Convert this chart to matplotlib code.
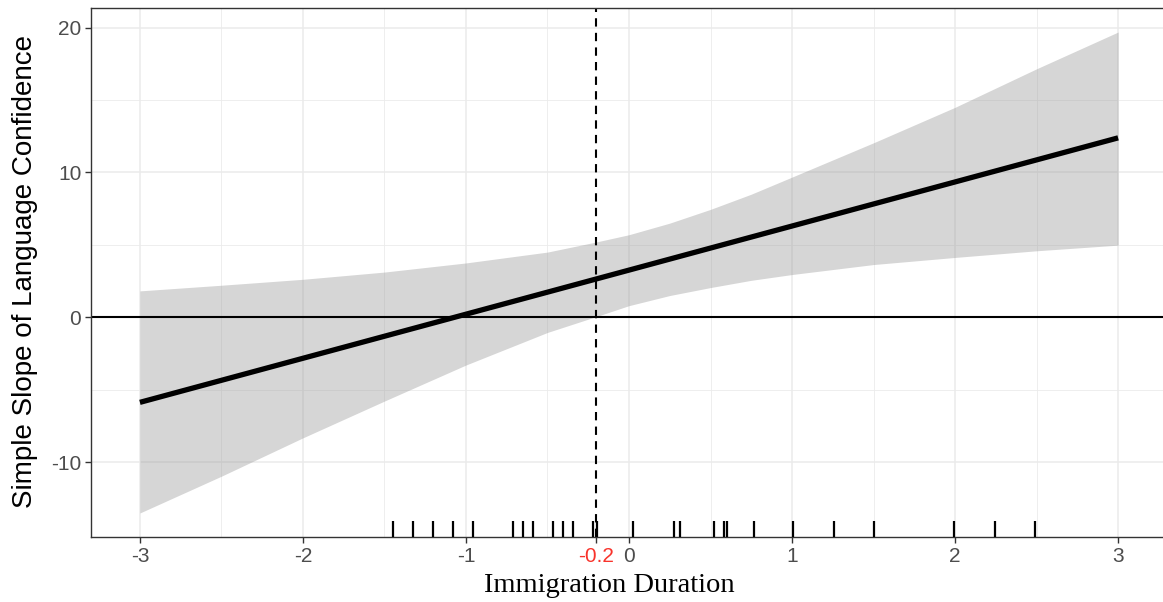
import numpy as np
import matplotlib
matplotlib.use("Agg")
from matplotlib import pyplot as plt
from matplotlib import transforms

plt.rcParams["axes.unicode_minus"] = False

# moderator values (immigration duration) at which the CI band was read
band_x = [-3.0, -2.5, -2.0, -1.5, -1.0, -0.5, -0.2, 0.0, 0.25, 0.5, 0.75, 1.0,
          1.5, 2.0, 2.5, 3.0]
band_upper = [1.82, 2.21, 2.62, 3.12, 3.75, 4.5, 5.2, 5.7, 6.5, 7.45, 8.5, 9.68,
              12.05, 14.5, 17.16, 19.7]
band_lower = [-13.52, -10.98, -8.33, -5.79, -3.3, -1.05, 0.05, 0.8, 1.5, 2.05,
              2.55, 2.95, 3.64, 4.13, 4.59, 4.98]

# simple slope line end points
slope_x = [-3.0, 3.0]
slope_y = [-5.88, 12.39]

# Johnson-Neyman point
jn_point = -0.2

# observed moderator values (rug)
rug_x = [-1.45, -1.327, -1.204, -1.078, -0.955, -0.71, -0.652, -0.587, -0.464,
         -0.407, -0.342, -0.219, -0.198, 0.026, 0.276, 0.313, 0.521, 0.583,
         0.60, 0.767, 1.008, 1.26, 1.505, 1.996, 2.245, 2.49]

x_ticks = [-3, -2, -1, -0.2, 0, 1, 2, 3]
x_tick_labels = ["-3", "-2", "-1", "-0.2", "0", "1", "2", "3"]
y_ticks = [-10, 0, 10, 20]

W, H = 1163, 602
fig = plt.figure(figsize=(W / 100, H / 100), dpi=100)
ax = fig.add_axes([91 / W, (H - 537) / H, (1167 - 91) / W, (537 - 8) / H])

ax.set_xlim(-3.3, 3.3)
ax.set_ylim(-15.18, 21.36)

# grid like theme_bw
for v in [-3, -2, -1, 0, 1, 2, 3]:
    ax.axvline(v, color="#EBEBEB", lw=1.1, zorder=0)
for v in np.arange(-2.5, 3.0, 1.0):
    ax.axvline(v, color="#EBEBEB", lw=0.6, zorder=0)
for v in y_ticks:
    ax.axhline(v, color="#EBEBEB", lw=1.1, zorder=0)
for v in [-5, 5, 15]:
    ax.axhline(v, color="#EBEBEB", lw=0.6, zorder=0)

ax.fill_between(band_x, band_lower, band_upper, color="#999999", alpha=0.4,
                lw=0, zorder=1)
ax.axhline(0, color="black", lw=1.5, zorder=2)
ax.axvline(jn_point, color="black", lw=1.5, ls=(0, (4, 3)), zorder=2)
ax.plot(slope_x, slope_y, color="black", lw=3.8, solid_capstyle="butt", zorder=3)

trans = transforms.blended_transform_factory(ax.transData, ax.transAxes)
ax.vlines(rug_x, 0, 0.03, transform=trans, color="black", lw=1.6, zorder=3)

ax.set_xticks(x_ticks)
ax.set_xticklabels(x_tick_labels)
ax.set_yticks(y_ticks)
ax.tick_params(axis="both", which="major", length=4, width=1, color="#333333",
               labelsize=15, labelcolor="#4D4D4D", pad=3)
for lab in ax.get_xticklabels():
    lab.set_family("Liberation Sans")
    if lab.get_text() == "-0.2":
        lab.set_color("#F8332B")
for lab in ax.get_yticklabels():
    lab.set_family("Liberation Sans")

for side in ["left", "top", "bottom"]:
    ax.spines[side].set_color("#333333")
    ax.spines[side].set_linewidth(1.0)
ax.spines["right"].set_visible(False)

fig.text(25 / W, (H - 272) / H, "Simple Slope of Language Confidence",
         family="Liberation Sans", fontsize=20, rotation=90,
         ha="center", va="center")
fig.text(609 / W, 16 / H, "Immigration Duration", family="Liberation Serif",
         fontsize=20.5, ha="center", va="center")

fig.savefig("out.png", dpi=100)
